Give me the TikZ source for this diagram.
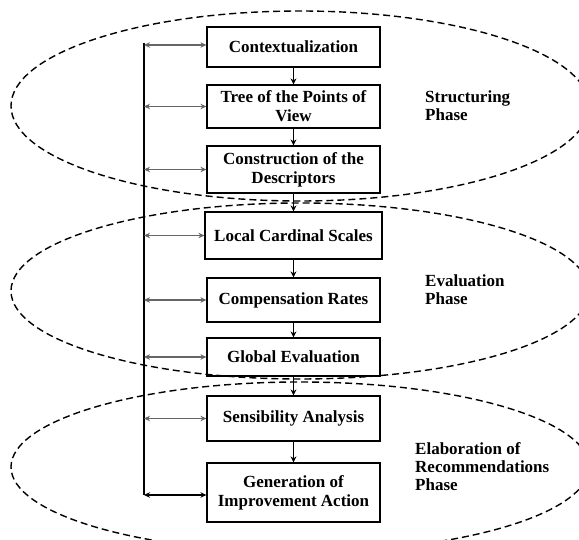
\documentclass[tikz,border=0pt]{standalone}
\usepackage{fontspec}
\setmainfont{Liberation Serif}
\usetikzlibrary{arrows.meta}
\begin{document}
\begin{tikzpicture}[x=1pt,y=-1pt,
  box/.style={draw,line width=1.2pt,minimum width=173pt,align=center,inner sep=0pt,
    font=\fontsize{17}{19}\selectfont\bfseries},
  flow/.style={line width=1.2pt,-{Stealth[length=6pt,width=6pt]}},
  link/.style={line width=1.2pt,draw=black!60,{Stealth[length=6pt,width=5.5pt,fill=black!80]}-{Stealth[length=6pt,width=5.5pt,fill=black!80]}},
  phase/.style={draw,line width=1.4pt,dash pattern=on 7pt off 4pt},
  lab/.style={anchor=west,align=left,inner sep=0pt,font=\fontsize{17}{18}\selectfont\bfseries}]
\useasboundingbox (0,0) rectangle (579,540);
% phases
\path[phase] (300,106) ellipse [x radius=289pt, y radius=95pt];
\path[phase] (300,291) ellipse [x radius=289pt, y radius=88pt];
\path[phase] (300,467) ellipse [x radius=289pt, y radius=85pt];
% boxes
\node[box,minimum height=40pt] (ctx) at (293.5,47) {Contextualization};
\node[box,minimum height=43pt] (tree) at (293.5,106.5) {Tree of the Points of\\View};
\node[box,minimum height=47pt] (cons) at (293.5,169.5) {Construction of the\\Descriptors};
\node[box,minimum height=47pt,minimum width=177pt] (loc) at (293.5,235.5) {Local Cardinal Scales};
\node[box,minimum height=44pt] (comp) at (293.5,300) {Compensation Rates};
\node[box,minimum height=38pt] (glob) at (293.5,357) {Global Evaluation};
\node[box,minimum height=45pt] (sens) at (293.5,418.5) {Sensibility Analysis};
\node[box,minimum height=59pt] (gen) at (293.5,492.5) {Generation of\\Improvement Action};
% flow
\draw[flow] (ctx) -- (tree);
\draw[flow] (tree) -- (cons);
\draw[flow] (cons) -- (loc);
\draw[flow] (loc) -- (comp);
\draw[flow] (comp) -- (glob);
\draw[flow] (glob) -- (sens);
\draw[flow] (sens) -- (gen);
% feedback bus
\coordinate (b1) at (144,45);
\coordinate (b2) at (144,106.5);
\coordinate (b3) at (144,169.5);
\coordinate (b4) at (144,235.5);
\coordinate (b5) at (144,300);
\coordinate (b6) at (144,357);
\coordinate (b7) at (144,418.5);
\coordinate (b8) at (144,495);
\draw[line width=1.5pt] (144,43) coordinate (top) -- (b8);
\draw[link] (b1) -- (ctx.west |- b1);
\draw[link] (b2) -- (tree.west |- b2);
\draw[link] (b3) -- (cons.west |- b3);
\draw[link] (b4) -- (loc.west |- b4);
\draw[link] (b5) -- (comp.west |- b5);
\draw[link] (b6) -- (glob.west |- b6);
\draw[link] (b7) -- (sens.west |- b7);
\draw[link,draw=black] (b8) -- (gen.west |- b8);
% labels
\node[lab] (l1) at (425,106) {Structuring\\Phase};
\node[lab] (l2) at (425,289.5) {Evaluation\\Phase};
\node[lab] (l3) at (415,467) {Elaboration of\\Recommendations\\Phase};
\end{tikzpicture}
\end{document}
